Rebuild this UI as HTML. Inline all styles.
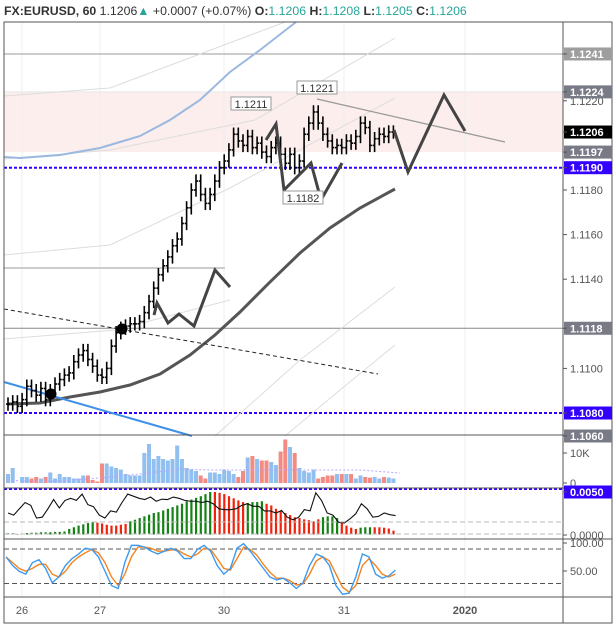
<!DOCTYPE html>
<html><head><meta charset="utf-8"><style>
body{margin:0;background:#fff;}
svg{display:block;font-family:"Liberation Sans",sans-serif;}
</style></head><body>
<svg id="c" width="616" height="627" viewBox="0 0 616 627">
<text x="4" y="15" font-size="12.3" font-weight="bold" fill="#333">FX:EURUSD, 60 <tspan font-weight="normal">1.1206</tspan><tspan fill="#26a69a">▲</tspan><tspan font-weight="normal"> +0.0007 (+0.07%)</tspan> O:<tspan fill="#26a69a" font-weight="normal">1.1206</tspan> H:<tspan fill="#26a69a" font-weight="normal">1.1208</tspan> L:<tspan fill="#26a69a" font-weight="normal">1.1205</tspan> C:<tspan fill="#26a69a" font-weight="normal">1.1206</tspan></text>
<g id="g"></g>
</svg>
<script>
const closes=[1.1084,1.1085,1.1083,1.1086,1.1092,1.1090,1.1088,1.1091,1.1086,1.1090,1.1093,1.1095,1.1097,1.1098,1.1103,1.1106,1.1108,1.1104,1.1101,1.1097,1.1096,1.1100,1.1110,1.1116,1.1118,1.1119,1.1120,1.1120,1.1121,1.1125,1.1130,1.1136,1.1142,1.1146,1.1150,1.1155,1.1158,1.1165,1.1172,1.1180,1.1184,1.1178,1.1174,1.1178,1.1184,1.1190,1.1193,1.1198,1.1205,1.1202,1.1200,1.1204,1.1199,1.1201,1.1197,1.1195,1.1199,1.1201,1.1196,1.1192,1.1196,1.1190,1.1193,1.1205,1.1210,1.1215,1.1210,1.1205,1.1202,1.1199,1.1200,1.1199,1.1202,1.1201,1.1204,1.1210,1.1208,1.1200,1.1203,1.1205,1.1204,1.1206,1.1206];
const volumes=[3,5,0,2,2,1.5,2,1.5,2,3.5,1.5,3,2,2,1.5,1.5,2.5,2.5,1,0.5,6.5,6.5,5.5,5,4.5,3,2.5,2.5,2.5,10,13,8,9,8,7.5,8,12.5,8,5,4.5,4,2.5,1.5,3.5,3.5,3,4.5,4,3,2,4,8.5,9,8,7.5,7.5,7,6,10.5,14.5,12,10,5,4,3.5,4.5,1.5,2,2.5,2.5,3,3,3,3,1.5,2.5,2,1.8,2,1.5,2,1.8,1.5];
const hist=[0.02,0.02,0,0,0.02,0.03,0.03,0.04,0.04,0.04,0.05,0.05,0.06,0.12,0.16,0.2,0.23,0.26,0.28,0.27,0.25,0.22,0.2,0.2,0.22,0.24,0.3,0.34,0.38,0.42,0.46,0.5,0.52,0.56,0.6,0.64,0.68,0.72,0.78,0.82,0.86,0.9,0.95,1.0,1.0,0.98,0.95,0.9,0.85,0.8,0.76,0.74,0.76,0.76,0.78,0.72,0.68,0.6,0.55,0.5,0.45,0.4,0.38,0.35,0.33,0.3,0.35,0.4,0.42,0.42,0.38,0.3,0.2,0.15,0.12,0.15,0.16,0.16,0.16,0.16,0.15,0.13,0.08];
const histUp=[1,1,1,1,1,1,1,1,1,1,1,1,1,1,1,1,1,1,1,0,0,0,0,0,0,0,1,1,1,1,1,1,1,1,1,1,1,1,1,1,1,1,1,1,0,0,0,0,0,0,0,1,1,1,1,0,0,0,0,0,0,0,0,0,0,0,0,1,1,1,1,0,0,0,0,1,1,1,0,0,0,0,0];
const sig=[0.5,0.45,0.6,0.75,0.68,0.38,0.4,0.6,0.82,0.62,0.8,0.85,0.8,0.95,0.7,0.65,0.45,0.38,0.55,0.52,0.75,0.95,0.9,0.85,0.82,0.88,0.78,0.83,0.82,0.88,0.85,0.8,0.78,0.78,0.75,0.78,0.72,0.6,0.58,0.58,0.6,0.68,0.72,0.66,0.66,0.55,0.55,0.5,0.56,0.4,0.34,0.4,0.58,0.55,0.98,0.8,0.5,0.45,0.28,0.26,0.36,0.48,0.72,0.6,0.4,0.42,0.5,0.46,0.44];
const stochK=[75,60,50,45,65,70,55,30,40,60,72,80,90,88,75,50,25,20,65,95,95,92,85,80,85,90,85,72,72,88,95,85,60,45,55,90,98,85,70,55,40,35,38,30,20,30,60,80,75,60,25,10,12,40,80,75,45,38,42,52];
const stochD=[75,65,55,50,55,62,62,45,40,50,65,75,82,88,82,65,40,25,45,75,92,92,90,85,85,87,87,80,75,80,90,88,72,55,52,72,92,88,78,62,48,38,38,34,26,28,45,68,75,68,45,22,14,25,60,72,60,45,40,45];
const dateLabels=["26","27","30","31","2020"];
const dateX=[22,100,224,344,465];
const priceTicks=[1.1220,1.1180,1.1160,1.1140,1.1100];

const NS="http://www.w3.org/2000/svg",G=document.getElementById('g');
function el(t,a,p){const e=document.createElementNS(NS,t);for(const k in a)e.setAttribute(k,a[k]);(p||G).appendChild(e);return e;}
const py=p=>190-(p-1.1180)*22300;
const bx=i=>8+i*4.7;
const vy=v=>483-v*3;
const hy=v=>534-v*42;
const sy=v=>600-v*0.575;
const PR=563;

let e=el('rect',{x:4,y:py(1.1224),width:PR-4,height:py(1.1197)-py(1.1224),fill:'#fbeeec'});

dateX.forEach((x,i)=>{e=el('line',{x1:x,x2:x,y1:22,y2:597,stroke:'#efefef'});});
e=el('line',{x1:4,x2:PR,y1:py(1.1241),y2:py(1.1241),stroke:'#999'});
e=el('line',{x1:4,x2:PR,y1:py(1.1224),y2:py(1.1224),stroke:'#e8e8e8'});
e=el('line',{x1:4,x2:PR,y1:py(1.1118),y2:py(1.1118),stroke:'#888'});
e=el('line',{x1:4,x2:225,y1:py(1.1145),y2:py(1.1145),stroke:'#bbb',"stroke-width":1.5});
[1.1190,1.1080].forEach(p=>{e=el('line',{x1:4,x2:PR,y1:py(p),y2:py(p),stroke:'#3300ff',"stroke-width":2,"stroke-dasharray":"3,2"});});
[[4,96,110,88,285,22],[4,159,110,150,255,120,395,38],[4,255,110,245,230,188,395,98],[4,339,115,330,230,300],[215,436,300,360,395,287],[285,436,340,390,395,345]].forEach(a=>{let d='M'+a[0]+','+a[1];for(let k=2;k<a.length;k+=2)d+=' L'+a[k]+','+a[k+1];e=el('path',{d:d,fill:'none',stroke:'#ddd'});});
e=el('path',{d:'M4,157 L20,158 L60,155 L100,148 L140,136 L170,120 L200,100 L230,72 L260,50 L296,22',fill:'none',stroke:'#9ab8e0',"stroke-width":2});
e=el('path',{d:'M8,404 L40,403 L70,397 L100,392 L130,385 L160,374 L190,355 L215,335 L240,312 L270,282 L300,253 L330,228 L360,208 L395,189',fill:'none',stroke:'#555',"stroke-width":3});
e=el('line',{x1:4,y1:382,x2:192,y2:436,stroke:'#3d8fe8',"stroke-width":2});
e=el('line',{x1:4,y1:309,x2:378,y2:374,stroke:'#222',"stroke-dasharray":"4,3"});
e=el('line',{x1:317,y1:99,x2:505,y2:142,stroke:'#999',"stroke-width":1.3});
closes.forEach((c,i)=>{const o=i?closes[i-1]:c;const h=Math.max(o,c)+0.0003,l=Math.min(o,c)-0.0003,x=bx(i);
const b=el('g',{stroke:'#000',"stroke-width":1.6});
el('line',{x1:x,x2:x,y1:py(h),y2:py(l)},b);el('line',{x1:x-2,x2:x,y1:py(o),y2:py(o)},b);el('line',{x1:x,x2:x+2,y1:py(c),y2:py(c)},b);});
[['266,140 276,124 284,190 311,163 321,200 342,163','pattern-1'],['394,130 408,172 444,95 465,131','projection-pattern'],['154,315 157,303 168,323 179,314 194,326 215,270 230,287','pattern-2']].forEach(z=>{e=el('polyline',{points:z[0],fill:'none',stroke:'#444',"stroke-width":3});});
[[122,329],[51,394]].forEach(p=>{e=el('circle',{cx:p[0],cy:p[1],r:5.5,fill:'#000'});});
[['1.1211',231,97],['1.1221',297,81],['1.1182',283,191]].forEach(t=>{const g=el('g',{});
el('rect',{x:t[1],y:t[2],width:40,height:13,fill:'#fff',stroke:'#999'},g);const tt=el('text',{x:t[1]+20,y:t[2]+11,"font-size":11,"text-anchor":"middle",fill:'#333'},g);tt.textContent=t[0];});
volumes.forEach((v,i)=>{if(i>=closes.length)return;const up=i==0||closes[i]>=closes[i-1];e=el('rect',{x:bx(i)-2,y:vy(v),width:4,height:483-vy(v),fill:up?'#90bff0':'#f28b82'});});
e=el('path',{d:'M8,480 L20,481 L60,481 L100,478 L140,474 L180,469 L210,470 L240,470 L280,470 L330,470 L360,470 L400,473',fill:'none',stroke:'#b7a6ff',"stroke-dasharray":"2,2"});
hist.forEach((v,i)=>{e=el('rect',{x:bx(i)-1,y:hy(v),width:2.2,height:534-hy(v)+0.5,fill:histUp[i]?'#148214':'#f0220c'});});
e=el('polyline',{points:sig.map((v,i)=>(8+i*5.7)+','+hy(v)).join(' '),fill:'none',stroke:'#111',"stroke-width":1.1});
e=el('line',{x1:4,x2:PR,y1:522,y2:522,stroke:'#bbb',"stroke-dasharray":"5,3"});
e=el('line',{x1:4,x2:PR,y1:534,y2:534,stroke:'#bbb',"stroke-dasharray":"5,3"});
e=el('line',{x1:4,x2:612,y1:489,y2:489,stroke:'#3300ff',"stroke-width":2,"stroke-dasharray":"3,2"});
[80,20].forEach(v=>{e=el('line',{x1:4,x2:PR,y1:sy(v)-5,y2:sy(v)-5,stroke:'#555',"stroke-dasharray":"5,3"});});
e=el('polyline',{points:stochD.map((v,i)=>(6+i*6.6)+','+sy(v)).join(' '),fill:'none',stroke:'#f5841f',"stroke-width":1.4});
e=el('polyline',{points:stochK.map((v,i)=>(6+i*6.6)+','+sy(v)).join(' '),fill:'none',stroke:'#3d9af0',"stroke-width":1.4});
e=el('rect',{x:4,y:22,width:608,height:601,fill:'none',stroke:'#555'});
e=el('line',{x1:PR,x2:PR,y1:22,y2:623,stroke:'#555'});
[435,488,539,597].forEach(y=>{e=el('line',{x1:4,x2:612,y1:y,y2:y,stroke:'#555'});});
function lab(t,y,bg,fg,nm){const g=el('g',{});
if(bg)el('rect',{x:PR+1,y:y-6.5,width:48,height:13,fill:bg},g);el('line',{x1:PR,x2:PR+4,y1:y,y2:y,stroke:'#555'},g);
const tt=el('text',{x:PR+7,y:y+4,"font-size":11,"font-weight":bg?'bold':'normal',fill:fg},g);tt.textContent=t;}
priceTicks.forEach(p=>lab(p.toFixed(4),py(p),null,'#555','price-tick'));
lab('1.1060',436,'#787b86','#fff','price-tag');
lab('1.1241',py(1.1241),'#9e9e9e','#fff','price-tag');
lab('1.1224',py(1.1224),'#787b86','#fff','price-tag');
lab('1.1206',py(1.1206),'#000','#fff','last-price-tag');
lab('1.1197',py(1.1197),'#787b86','#fff','price-tag');
lab('1.1190',py(1.1190),'#3300ff','#fff','price-tag');
lab('1.1118',py(1.1118),'#787b86','#fff','price-tag');
lab('1.1080',py(1.1080),'#3300ff','#fff','price-tag');
lab('10K',vy(10),null,'#555','volume-tick');lab('0',vy(0),null,'#555','volume-tick');
lab('0.0050',492,'#3300ff','#fff','macd-tag');lab('0.0000',535,null,'#555','macd-tick');
lab('100.00',543,null,'#555','stoch-tick');lab('50.00',571,null,'#555','stoch-tick');
dateLabels.forEach((d,i)=>{e=el('text',{x:dateX[i],y:614,"font-size":11,"text-anchor":"middle",fill:'#555',"font-weight":d=='2020'?'bold':'normal'});e.textContent=d;});
</script>
</body></html>
